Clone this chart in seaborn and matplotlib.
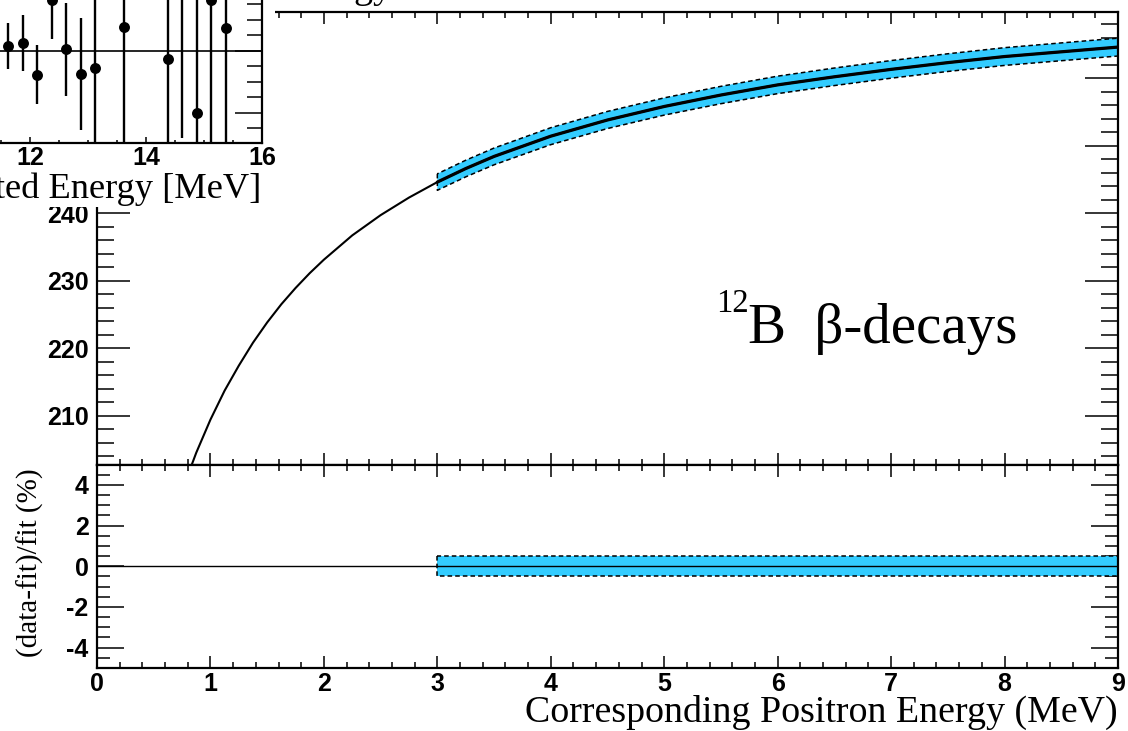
import numpy as np
import pandas as pd
import matplotlib
matplotlib.use("Agg")
import matplotlib.pyplot as plt
from matplotlib.ticker import MultipleLocator
import seaborn as sns

# energy scale fit curve
energy = [0.75, 0.875, 1.0, 1.125, 1.25, 1.375, 1.5, 1.625, 1.75, 1.875, 2.0,
          2.25, 2.5, 2.75, 3.0, 3.25, 3.5, 3.75, 4.0, 4.5, 5.0, 5.5, 6.0,
          6.5, 7.0, 7.5, 8.0, 8.5, 9.0]
scale = [198.9, 204.5, 209.4, 213.7, 217.4, 220.8, 223.8, 226.5, 228.9, 231.1, 233.1,
         236.7, 239.7, 242.3, 244.6, 246.6, 248.4, 249.9, 251.4, 253.8, 255.8, 257.5, 259.0,
         260.2, 261.3, 262.3, 263.2, 263.9, 264.6]
band_start = 3.0      # MeV, where the 12B constraint begins
band_pct = 0.5        # +- % uncertainty band

resid_x = [0.0, 9.0]
resid_y = [0.0, 0.0]

# inset: data/fit for 12B spectrum
inset_x = [11.625, 11.875, 12.125, 12.375, 12.625, 12.875, 13.125,
           13.625, 14.375, 14.625, 14.875, 15.125, 15.375]
inset_y = [1.016, 1.026, 0.923, 1.165, 1.006, 0.926, 0.945,
           1.077, 0.974, 1.45, 0.80, 1.165, 1.074]
inset_err = [0.075, 0.09, 0.095, 0.125, 0.15, 0.18, 0.24,
             0.45, 0.268, 0.73, 0.5, 0.55, 0.5]

sns.set_style("ticks")
plt.rcParams['font.family'] = ['Liberation Sans', 'DejaVu Sans']
plt.rcParams['font.weight'] = 'bold'
plt.rcParams['axes.unicode_minus'] = False
for k in ('text.color', 'axes.labelcolor', 'xtick.color', 'ytick.color', 'axes.edgecolor'):
    plt.rcParams[k] = 'black'

band_col = '#33ccff'
dash = (0, (3, 2))
serif = ['Liberation Serif', 'DejaVu Serif']

W, H = 1128, 731
fig = plt.figure(figsize=(W / 100, H / 100), dpi=100)


def px(l, t, r, b):
    # pixel box -> figure fraction [left, bottom, width, height]
    return [l / W, 1 - b / H, (r - l) / W, (b - t) / H]


ax_top = fig.add_axes(px(97, 12, 1118, 464.5))
ax_bot = fig.add_axes(px(97, 464.5, 1118, 668))

df = pd.DataFrame({'E': energy, 'S': scale})
band = df[df['E'] >= band_start]

ax_top.fill_between(band['E'], band['S'] * (1 - band_pct / 100), band['S'] * (1 + band_pct / 100),
                    facecolor=band_col, edgecolor='black', linestyle=dash, linewidth=1.1)
sns.lineplot(data=df, x='E', y='S', ax=ax_top, color='black', linewidth=1.5)
sns.lineplot(data=band, x='E', y='S', ax=ax_top, color='black', linewidth=2.3)
ax_top.set_xlim(0, 9)
ax_top.set_ylim(202.75, 269.8)
ax_top.text(5.457, 225.4, '12', family=serif, fontweight='normal',
            fontsize=23.5, ha='left', va='baseline')
ax_top.text(5.74, 220.8, 'B  β-decays', family=serif, fontweight='normal',
            fontsize=41, ha='left', va='baseline')

ax_bot.fill_between([band_start, 9.0], [-band_pct, -band_pct], [band_pct, band_pct],
                    facecolor=band_col, edgecolor='black', linestyle=dash, linewidth=1.1)
sns.lineplot(x=resid_x, y=resid_y, ax=ax_bot, color='black', linewidth=1.0)
ax_bot.set_xlim(0, 9)
ax_bot.set_ylim(-5, 5)

for ax in (ax_top, ax_bot):
    ax.set_xlabel('')
    ax.set_ylabel('')
    ax.set_facecolor('white')
    ax.xaxis.set_major_locator(MultipleLocator(1))
    ax.xaxis.set_minor_locator(MultipleLocator(0.2))
    ax.tick_params(which='both', direction='in', top=True, right=True, width=1.1,
                   color='black', labelcolor='black', labelsize=18)
    ax.tick_params(axis='x', which='major', length=8.5, pad=3)
    ax.tick_params(axis='x', which='minor', length=4.3)
    for s in ax.spines.values():
        s.set_linewidth(1.6)
        s.set_color('black')

ax_top.yaxis.set_major_locator(MultipleLocator(10))
ax_top.yaxis.set_minor_locator(MultipleLocator(2))
ax_top.tick_params(axis='y', which='major', length=24, pad=6)
ax_top.tick_params(axis='y', which='minor', length=12)
ax_top.tick_params(axis='x', labelbottom=False)

ax_bot.yaxis.set_major_locator(MultipleLocator(2))
ax_bot.yaxis.set_minor_locator(MultipleLocator(0.5))
ax_bot.tick_params(axis='y', which='major', length=19.5, pad=6)
ax_bot.tick_params(axis='y', which='minor', length=9.5)

fig.text(1118 / W, 1 - 722 / H, 'Corresponding Positron Energy (MeV)', family=serif,
         fontweight='normal', fontsize=27.3, ha='right', va='baseline')
fig.text(30 / W, 1 - 563 / H, '(data-fit)/fit (%)', family=serif, fontweight='normal',
         fontsize=21, rotation=90, ha='center', va='center')
fig.text(393 / W, 1 + 2 / H, 'Energy', family=serif, fontweight='normal',
         fontsize=27.3, ha='right', va='baseline')

# inset pad (white) covering the upper-left corner
pad_ax = fig.add_axes(px(-60, -60, 275, 207), zorder=3)
pad_ax.set_facecolor('white')
pad_ax.set_xticks([])
pad_ax.set_yticks([])
for s in pad_ax.spines.values():
    s.set_visible(False)

ax_in = fig.add_axes(px(-57, -42, 262, 143), zorder=4)
ax_in.set_facecolor('white')
ax_in.axhline(1.0, color='black', linewidth=1.2)
ax_in.errorbar(inset_x, inset_y, yerr=inset_err, fmt='none', ecolor='black',
               elinewidth=1.7, capsize=0)
sns.scatterplot(x=inset_x, y=inset_y, ax=ax_in, color='black', s=62, edgecolor='black',
                linewidth=0, zorder=5)
ax_in.set_xlim(10.5, 16)
ax_in.set_ylim(0.703, 1.3)
ax_in.xaxis.set_major_locator(MultipleLocator(2))
ax_in.xaxis.set_minor_locator(MultipleLocator(0.5))
ax_in.yaxis.set_major_locator(MultipleLocator(0.2))
ax_in.yaxis.set_minor_locator(MultipleLocator(0.05))
ax_in.tick_params(which='both', direction='in', top=True, right=True, width=1.1,
                  color='black', labelcolor='black', labelsize=18, labelleft=False)
ax_in.tick_params(axis='x', which='major', length=4.5, pad=2)
ax_in.tick_params(axis='x', which='minor', length=2.5)
ax_in.tick_params(axis='y', which='major', length=19.5)
ax_in.tick_params(axis='y', which='minor', length=11)
for s in ax_in.spines.values():
    s.set_linewidth(1.6)
    s.set_color('black')

fig.text(261 / W, 1 - 198 / H, 'Reconstructed Energy [MeV]', family=serif,
         fontweight='normal', fontsize=26.2, ha='right', va='baseline', zorder=6)

fig.savefig('out.png', dpi=100)
